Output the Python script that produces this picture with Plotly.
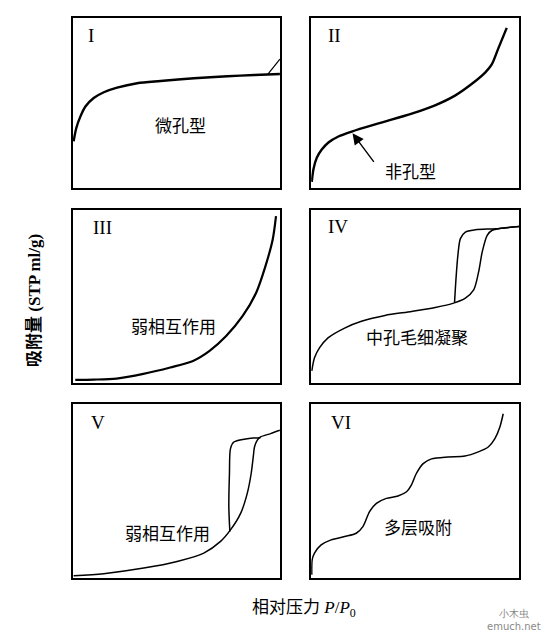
import plotly.graph_objects as go

# ---- data (normalized relative pressure / adsorbed amount) ----
p1_x = [0.003, 0.016, 0.036, 0.06, 0.10, 0.149, 0.213, 0.31, 0.423, 0.585, 0.746, 0.876, 1.0]
p1_y = [0.276, 0.354, 0.422, 0.48, 0.53, 0.564, 0.591, 0.617, 0.630, 0.646, 0.658, 0.665, 0.671]
p1_dx = [0.94, 1.0]
p1_dy = [0.667, 0.759]

p2_x = [0.003, 0.011, 0.027, 0.051, 0.083, 0.131, 0.195, 0.324, 0.484, 0.596, 0.692, 0.772, 0.837, 0.869, 0.901, 0.941]
p2_y = [0.038, 0.112, 0.179, 0.227, 0.269, 0.304, 0.333, 0.381, 0.438, 0.487, 0.544, 0.612, 0.679, 0.727, 0.823, 0.942]

p3_x = [0.011, 0.10, 0.21, 0.34, 0.47, 0.58, 0.66, 0.74, 0.82, 0.885, 0.93, 0.965, 0.981]
p3_y = [0.015, 0.017, 0.023, 0.05, 0.087, 0.125, 0.183, 0.269, 0.385, 0.519, 0.673, 0.827, 0.962]

p4_ax = [0.003, 0.016, 0.04, 0.081, 0.161, 0.242, 0.355, 0.484, 0.597, 0.685, 0.742, 0.782, 0.806, 0.823, 0.847, 0.871, 0.935, 1.0]
p4_ay = [0.067, 0.143, 0.20, 0.258, 0.315, 0.354, 0.388, 0.411, 0.434, 0.459, 0.488, 0.535, 0.641, 0.755, 0.851, 0.88, 0.895, 0.902]
p4_dx = [1.0, 0.887, 0.79, 0.742, 0.718, 0.706, 0.697, 0.69]
p4_dy = [0.902, 0.889, 0.883, 0.870, 0.832, 0.736, 0.602, 0.465]

p5_ax = [0.003, 0.148, 0.342, 0.503, 0.632, 0.713, 0.761, 0.81, 0.842, 0.861, 0.871, 0.877, 0.89, 0.906, 0.955, 1.0]
p5_ay = [0.013, 0.025, 0.057, 0.095, 0.143, 0.21, 0.276, 0.371, 0.486, 0.60, 0.695, 0.752, 0.79, 0.81, 0.829, 0.848]
p5_dx = [0.906, 0.842, 0.777, 0.761, 0.756, 0.753, 0.758]
p5_dy = [0.806, 0.80, 0.781, 0.743, 0.60, 0.41, 0.267]

p6_x = [0.003, 0.005, 0.016, 0.048, 0.096, 0.161, 0.217, 0.249, 0.281, 0.314, 0.362, 0.418, 0.459, 0.482, 0.506, 0.539, 0.579, 0.659, 0.74, 0.804, 0.852, 0.884, 0.908, 0.924]
p6_y = [0.019, 0.105, 0.143, 0.19, 0.219, 0.238, 0.257, 0.295, 0.381, 0.429, 0.457, 0.471, 0.495, 0.533, 0.60, 0.657, 0.684, 0.695, 0.70, 0.724, 0.752, 0.80, 0.867, 0.943]

numerals = ["I", "II", "III", "IV", "V", "VI"]
labels = ["微孔型", "非孔型", "弱相互作用", "中孔毛细凝聚", "弱相互作用", "多层吸附"]
label_pos = [(0.52, 0.374), (0.476, 0.102), (0.484, 0.327), (0.508, 0.268), (0.455, 0.261), (0.514, 0.295)]
numeral_pos = [(0.065, 0.90), (0.07, 0.90), (0.085, 0.894), (0.07, 0.90), (0.075, 0.895), (0.085, 0.895)]

y_title = "<b>吸附量 (STP ml/g)</b>"
x_title = "相对压力 <i>P</i>/<i>P</i><sub>0</sub>"

# ---- figure (page body has an 8px default margin, compensated here) ----
OFF = 8
W, H = 551 - 2 * OFF, 642 - 2 * OFF
ml, mt = 73 - OFF, 16 - OFF
mr = (W + OFF) - 519
mb = (H + OFF) - 578
col_dom = [[0.0, 0.464], [0.534, 1.0]]
row_dom = [[0.696, 1.0], [0.349, 0.658], [0.0, 0.311]]

fig = go.Figure()
curves = [
    (1, [(p1_x, p1_y, 2.4), (p1_dx, p1_dy, 1.2)]),
    (2, [(p2_x, p2_y, 2.4)]),
    (3, [(p3_x, p3_y, 2.2)]),
    (4, [(p4_ax, p4_ay, 1.5), (p4_dx, p4_dy, 1.5)]),
    (5, [(p5_ax, p5_ay, 1.5), (p5_dx, p5_dy, 1.5)]),
    (6, [(p6_x, p6_y, 1.5)]),
]
for i, lines in curves:
    sfx = "" if i == 1 else str(i)
    for xs, ys, w in lines:
        fig.add_trace(go.Scatter(x=xs, y=ys, mode="lines", xaxis="x" + sfx, yaxis="y" + sfx,
                                 line=dict(color="black", width=w, shape="spline", smoothing=0.8),
                                 showlegend=False, hoverinfo="skip"))

layout = dict(width=W, height=H, margin=dict(l=ml, r=mr, t=mt, b=mb),
              plot_bgcolor="white", paper_bgcolor="white", showlegend=False)
annotations = []
for i in range(6):
    r, c = divmod(i, 2)
    sfx = "" if i == 0 else str(i + 1)
    ax_common = dict(range=[0, 1], showgrid=False, zeroline=False, showticklabels=False, ticks="",
                     showline=True, linecolor="black", linewidth=1.6, mirror=True, fixedrange=True)
    layout["xaxis" + sfx] = dict(domain=col_dom[c], anchor="y" + sfx, **ax_common)
    layout["yaxis" + sfx] = dict(domain=row_dom[r], anchor="x" + sfx, **ax_common)
    lx, ly = label_pos[i]
    annotations.append(dict(x=lx, y=ly, xref="x" + sfx, yref="y" + sfx, text=labels[i], showarrow=False,
                            font=dict(family="Noto Sans CJK SC", size=17, color="black")))
    nx, ny = numeral_pos[i]
    annotations.append(dict(x=nx, y=ny, xref="x" + sfx, yref="y" + sfx, text=numerals[i], showarrow=False,
                            xanchor="left", font=dict(family="Liberation Serif", size=19, color="black")))

# arrow in panel II
annotations.append(dict(x=0.199, y=0.323, xref="x2", yref="y2", ax=0.316, ay=0.131, axref="x2", ayref="y2",
                        text=" ", showarrow=True, arrowhead=2, arrowsize=1.6, arrowwidth=1.4, arrowcolor="black"))
layout["annotations"] = annotations
fig.update_layout(**layout)

pw, ph = W - ml - mr, H - mt - mb
fig.add_annotation(x=(35 - 73) / pw, y=(578 - 300) / ph, xref="paper", yref="paper", text=y_title,
                   showarrow=False, textangle=-90, xanchor="center", yanchor="middle",
                   font=dict(family="Liberation Serif, Noto Sans CJK SC", size=17, color="black"))
fig.add_annotation(x=(304 - 73) / pw, y=(578 - 609) / ph, xref="paper", yref="paper", text=x_title,
                   showarrow=False, xanchor="center", yanchor="middle",
                   font=dict(family="Liberation Serif, Noto Sans CJK SC", size=17, color="black"))
# watermark
fig.add_annotation(x=(514 - 73) / pw, y=(578 - 620) / ph, xref="paper", yref="paper",
                   text="小木虫<br>emuch.net", showarrow=False, xanchor="center", yanchor="middle",
                   font=dict(family="DejaVu Sans", size=10, color="#888888"))

fig.write_html("out.html")
